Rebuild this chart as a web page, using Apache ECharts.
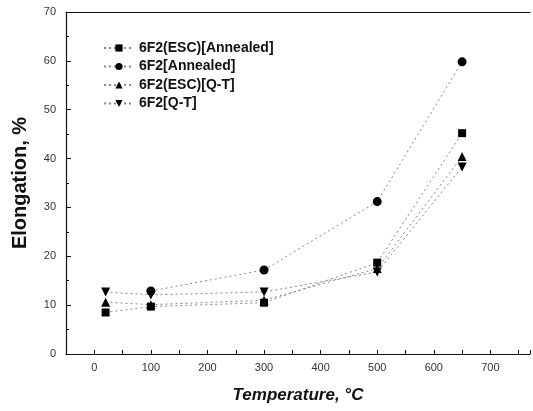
<!DOCTYPE html>
<html><head><meta charset="utf-8">
<script src="https://cdn.jsdelivr.net/npm/echarts@6/dist/echarts.min.js"></script>
<style>html,body{margin:0;padding:0;background:#fff}#c{width:533px;height:411px}</style>
</head><body><div id="c"></div>
<script>
const escAnnealedT = [20, 100, 300, 500, 650];
const escAnnealed = [8.5, 9.7, 10.5, 18.7, 45.2];
const annealedT = [100, 300, 500, 650];
const annealed = [12.9, 17.2, 31.2, 59.8];
const escQTT = [20, 100, 300, 500, 650];
const escQT = [10.6, 10.1, 11.0, 17.5, 40.4];
const qtT = [20, 100, 300, 500, 650];
const qt = [12.7, 12.1, 12.7, 16.8, 38.3];
const seriesNames = ['6F2(ESC)[Annealed]', '6F2[Annealed]', '6F2(ESC)[Q-T]', '6F2[Q-T]'];
const xTicks = [0, 100, 200, 300, 400, 500, 600, 700];
const yTicks = [0, 10, 20, 30, 40, 50, 60, 70];

const font = '"Liberation Sans", Arial, sans-serif';
const pairs = (t, v) => t.map((x, i) => [x, v[i]]);
const symbols = ['rect', 'circle', 'triangle', 'path://M0,0 L10,0 L5,9 Z'];
const sizes = [8, 9, 9, 9];
const data = [[escAnnealedT, escAnnealed], [annealedT, annealed], [escQTT, escQT], [qtT, qt]];

const chart = echarts.init(document.getElementById('c'));
chart.setOption({
  animation: false,
  backgroundColor: '#fff',
  grid: { left: 66, right: 0, top: 12, bottom: 57 },
  legend: {
    orient: 'vertical', left: 98, top: 35, itemGap: 2.5, itemWidth: 30, itemHeight: 9,
    textStyle: { fontFamily: font, fontWeight: 'bold', fontSize: 14, color: '#111', lineHeight: 16 },
    data: seriesNames
  },
  xAxis: [{
    type: 'value', min: -50, max: 770, interval: 50,
    axisLine: { show: true, onZero: false, lineStyle: { color: '#111', width: 1.2 } },
    axisTick: { show: true, inside: true, length: 4, lineStyle: { color: '#111' } },
    axisLabel: {
      fontFamily: font, fontSize: 11, color: '#333', margin: 8,
      formatter: v => (xTicks.indexOf(v) >= 0 ? String(v) : '')
    },
    splitLine: { show: false },
    name: 'Temperature, °C', nameLocation: 'middle', nameGap: 33,
    nameTextStyle: { fontFamily: font, fontSize: 17, fontWeight: 'bold', fontStyle: 'italic', color: '#111' }
  }, {
    type: 'value', position: 'top', min: -50, max: 770,
    axisLine: { show: true, onZero: false, lineStyle: { color: '#111', width: 1.2 } },
    axisTick: { show: false }, axisLabel: { show: false }, splitLine: { show: false }
  }],
  yAxis: {
    type: 'value', min: 0, max: 70, interval: 10,
    axisLine: { show: true, onZero: false, lineStyle: { color: '#111', width: 1.2 } },
    axisTick: { show: true, inside: true, length: 5, lineStyle: { color: '#111' } },
    minorTick: { show: true, splitNumber: 2, length: 3, lineStyle: { color: '#111' } },
    axisLabel: {
      fontFamily: font, fontSize: 11, color: '#333', margin: 10,
      formatter: v => (yTicks.indexOf(v) >= 0 ? String(v) : '')
    },
    splitLine: { show: false },
    name: 'Elongation, %', nameLocation: 'middle', nameGap: 36, nameRotate: 90,
    nameTextStyle: { fontFamily: font, fontSize: 20, fontWeight: 'bold', color: '#111' }
  },
  series: data.map((d, i) => ({
    name: seriesNames[i], type: 'line', data: pairs(d[0], d[1]),
    symbol: symbols[i], symbolSize: sizes[i],
    itemStyle: { color: '#000' },
    lineStyle: { color: '#888', width: 1, type: [2, 3] },
    z: 3
  }))
});
</script></body></html>
